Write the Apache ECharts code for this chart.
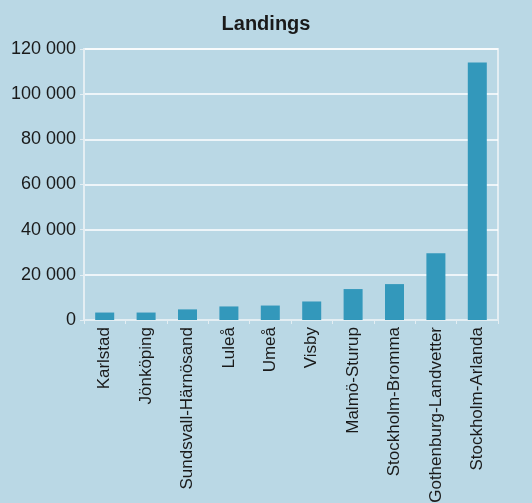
<!DOCTYPE html>
<html>
<head>
<meta charset="utf-8">
<script src="https://cdn.jsdelivr.net/npm/echarts@6/dist/echarts.min.js"></script>
<style>
  html, body { margin: 0; padding: 0; background: #bad8e5; }
  #chart { width: 532px; height: 503px; }
</style>
</head>
<body>
<div id="chart"></div>
<script>
// airports, smallest to largest
const airports = [
  'Karlstad', 'Jönköping', 'Sundsvall-Härnösand', 'Luleå', 'Umeå',
  'Visby', 'Malmö-Sturup', 'Stockholm-Bromma', 'Gothenburg-Landvetter', 'Stockholm-Arlanda'
]
// number of landings
const landings = [3300, 3300, 4700, 6000, 6400, 8200, 13700, 15900, 29600, 114000]
const yTicks = [0, 20000, 40000, 60000, 80000, 100000, 120000]

const fontFamily = '"Liberation Sans", Arial, sans-serif'
const myChart = echarts.init(document.getElementById('chart'))
myChart.setOption({
  backgroundColor: '#bad8e5',
  animation: false,
  title: {
    text: 'Landings',
    left: 'center',
    top: 9,
    textStyle: { fontSize: 20, fontWeight: 'bold', color: '#1a1a1a', fontFamily }
  },
  grid: {
    left: 84, right: 34, top: 49, bottom: 183,
    outerBoundsMode: 'none',
    // plot box: left / top / right edges
    show: true,
    borderColor: '#e4eef3',
    borderWidth: 2
  },
  xAxis: {
    type: 'category',
    data: airports,
    axisLine: { lineStyle: { color: '#e4eef3', width: 2 } },
    axisTick: { show: true, length: 4, lineStyle: { color: '#e4eef3' } },
    axisLabel: { rotate: 90, margin: 7, fontSize: 17, color: '#1a1a1a', fontFamily }
  },
  yAxis: {
    type: 'value',
    min: yTicks[0],
    max: yTicks[yTicks.length - 1],
    interval: 20000,
    axisLine: { show: true, lineStyle: { color: '#e4eef3', width: 2 } },
    axisTick: { show: true, length: 4, lineStyle: { color: '#e4eef3' } },
    splitLine: { lineStyle: { color: '#ffffff', width: 1.5 } },
    axisLabel: {
      fontSize: 18,
      color: '#1a1a1a',
      fontFamily,
      margin: 8,
      formatter: v => String(v).replace(/\B(?=(\d{3})+(?!\d))/g, ' ')
    }
  },
  series: [
    {
      type: 'bar',
      data: landings,
      barWidth: 19,
      itemStyle: { color: '#3398bb' }
    }
  ]
})
</script>
</body>
</html>
